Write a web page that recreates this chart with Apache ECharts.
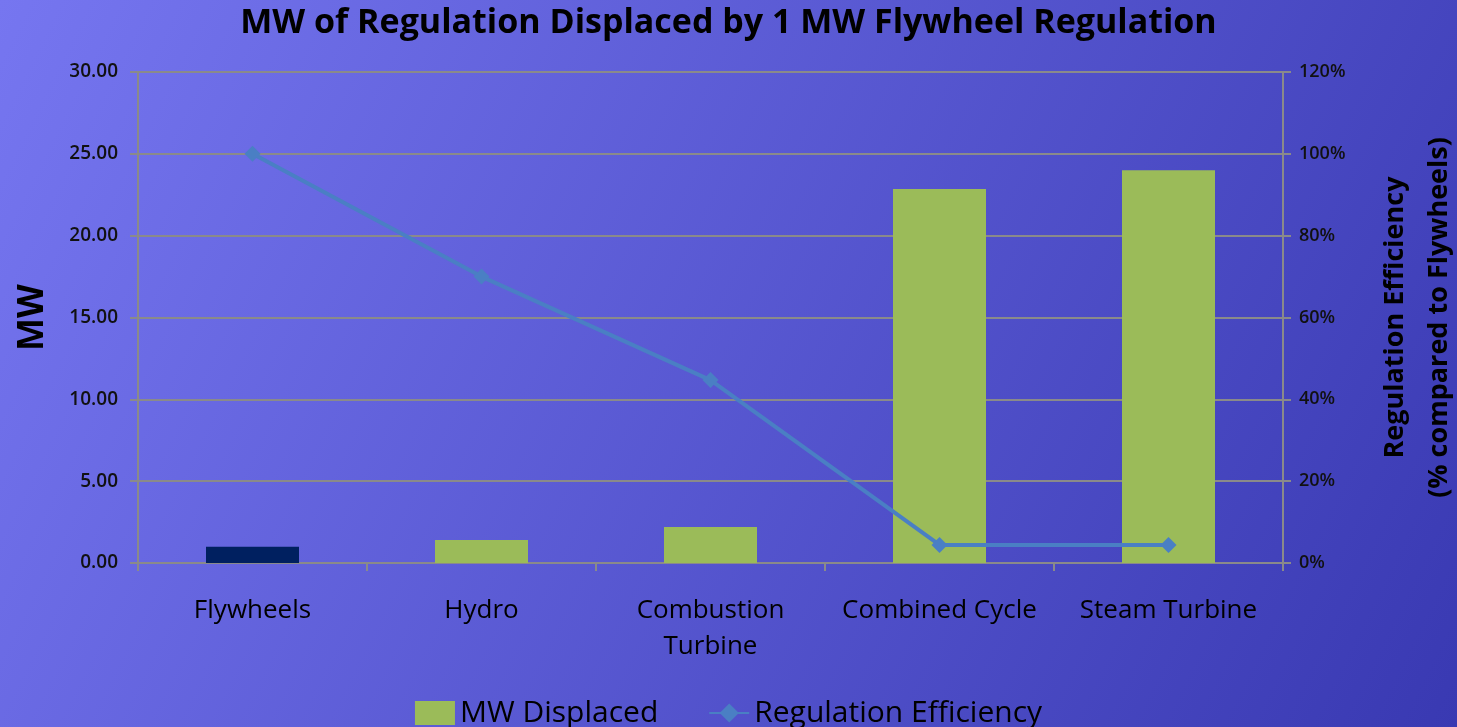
<!DOCTYPE html>
<html>
<head>
<meta charset="utf-8">
<script src="https://cdn.jsdelivr.net/npm/echarts@6/dist/echarts.min.js"></script>
<style>
html,body{margin:0;padding:0;width:1457px;height:727px;overflow:hidden;}
#c{width:1457px;height:727px;}
</style>
</head>
<body>
<div id="c"></div>
<script>
const categories = ['Flywheels', 'Hydro', 'Combustion\nTurbine', 'Combined Cycle', 'Steam Turbine'];
const mwDisplaced = [1.0, 1.4, 2.2, 22.85, 24.0];
const regulationEfficiency = [100, 70, 44.7, 4.4, 4.4];
const leftTicks = [0, 5, 10, 15, 20, 25, 30];
const rightTicks = [0, 20, 40, 60, 80, 100, 120];

const chart = echarts.init(document.getElementById('c'));
const font = 'Open Sans';
chart.setOption({
  backgroundColor: {
    type: 'linear', x: 0, y: 0, x2: 1, y2: 1,
    colorStops: [{offset: 0, color: '#7676f0'}, {offset: 1, color: '#3939b2'}]
  },
  title: {
    text: 'MW of Regulation Displaced by 1 MW Flywheel Regulation',
    left: 'center', top: 1,
    textStyle: {fontFamily: font, fontSize: 34, fontWeight: 'bold', color: '#000'}
  },
  grid: {left: 138, right: 174, top: 72, bottom: 164, outerBoundsMode: 'none', containLabel: false},
  legend: {
    bottom: -6, left: 'center',
    itemWidth: 40, itemHeight: 24, itemGap: 50,
    textStyle: {fontFamily: font, fontSize: 30, color: '#000'},
    data: [
      {name: 'MW Displaced', icon: 'rect', itemStyle: {color: '#9bbb59'}},
      {name: 'Regulation Efficiency'}
    ]
  },
  xAxis: {
    type: 'category', data: categories,
    axisLine: {lineStyle: {color: '#8a8a8a', width: 2}},
    axisTick: {show: true, length: 8, interval: 0, lineStyle: {color: '#8a8a8a', width: 2}},
    axisLabel: {fontFamily: font, fontSize: 26, color: '#000', margin: 30, lineHeight: 36, interval: 0}
  },
  yAxis: [
    {
      type: 'value', min: 0, max: 30, interval: 5,
      name: 'MW', nameLocation: 'middle', nameGap: 87, nameRotate: 90,
      nameTextStyle: {fontFamily: font, fontSize: 35, fontWeight: 'bold', color: '#000'},
      axisLine: {show: true, lineStyle: {color: '#8a8a8a', width: 2}},
      axisTick: {show: true, length: 8, lineStyle: {color: '#8a8a8a', width: 2}},
      splitLine: {show: true, lineStyle: {color: '#8a8a8a', width: 2}},
      axisLabel: {fontFamily: font, fontSize: 19, fontWeight: 600, color: '#111', margin: 20,
        formatter: v => v.toFixed(2)}
    },
    {
      type: 'value', min: 0, max: 120, interval: 20,
      name: 'Regulation Efficiency\n(% compared to Flywheels)',
      nameLocation: 'middle', nameGap: 90, nameRotate: 90,
      nameTextStyle: {fontFamily: font, fontSize: 27, fontWeight: 'bold', color: '#000', lineHeight: 44},
      axisLine: {show: true, lineStyle: {color: '#8a8a8a', width: 2}},
      axisTick: {show: true, length: 8, lineStyle: {color: '#8a8a8a', width: 2}},
      splitLine: {show: false},
      axisLabel: {fontFamily: font, fontSize: 18, fontWeight: 600, color: '#111', margin: 16,
        formatter: v => v + '%'}
    }
  ],
  series: [
    {
      name: 'MW Displaced', type: 'bar', yAxisIndex: 0,
      barWidth: 93,
      data: mwDisplaced.map((v, i) => ({
        value: v,
        itemStyle: {color: i === 0 ? '#002060' : '#9bbb59'}
      })),
      itemStyle: {color: '#9bbb59'}
    },
    {
      name: 'Regulation Efficiency', type: 'line', yAxisIndex: 1,
      data: regulationEfficiency,
      symbol: 'diamond', symbolSize: 16,
      lineStyle: {color: '#4a7fc4', width: 4},
      itemStyle: {color: '#4a7fc4'}
    }
  ]
});
</script>
</body>
</html>
